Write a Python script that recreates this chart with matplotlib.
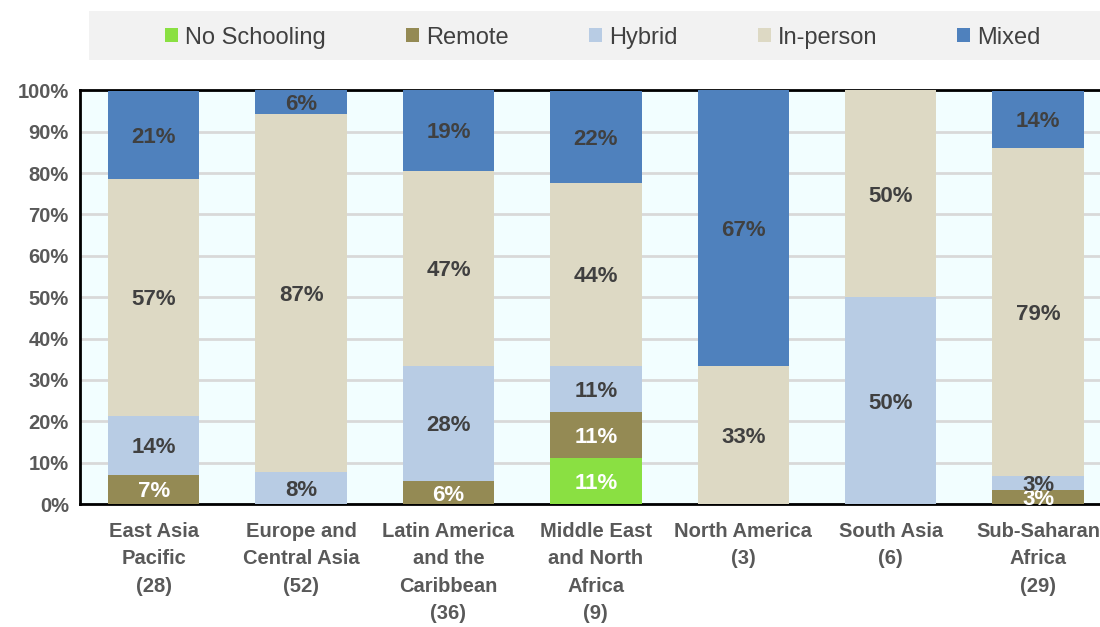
import matplotlib.pyplot as plt
import numpy as np
from matplotlib.patches import Rectangle

plt.rcParams['font.family'] = ['Liberation Sans', 'DejaVu Sans']

regions = ['East Asia\nPacific\n(28)', 'Europe and\nCentral Asia\n(52)',
           'Latin America\nand the\nCaribbean\n(36)', 'Middle East\nand North\nAfrica\n(9)',
           'North America\n(3)', 'South Asia\n(6)', 'Sub-Saharan\nAfrica\n(29)']
series = ['No Schooling', 'Remote', 'Hybrid', 'In-person', 'Mixed']
colors = ['#8AE042', '#948A54', '#B8CCE4', '#DDD9C4', '#4F81BD']
text_colors = ['white', 'white', '#404040', '#404040', '#404040']

no_schooling = [0, 0, 0, 11.1, 0, 0, 0]
remote = [7.1, 0, 5.6, 11.1, 0, 0, 3.4]
hybrid = [14.3, 7.7, 27.8, 11.1, 0, 50, 3.4]
in_person = [57.1, 86.5, 47.2, 44.4, 33.3, 50, 79.3]
mixed = [21.4, 5.8, 19.4, 22.2, 66.7, 0, 13.8]
data = [no_schooling, remote, hybrid, in_person, mixed]

fig = plt.figure(figsize=(11, 6.27), dpi=100)
ax = fig.add_axes([0.0727, 0.196, 0.938, 0.66])
ax.set_facecolor('#F2FEFF')

x = np.arange(len(regions))
bottom = np.zeros(len(regions))
for vals, name, c, tc in zip(data, series, colors, text_colors):
    vals = np.array(vals)
    ax.bar(x, vals, 0.62, bottom=bottom, color=c, label=name, zorder=3)
    for xi, b, v in zip(x, bottom, vals):
        if v > 0:
            ax.text(xi, b + v / 2, f'{int(v + 0.5)}%', ha='center', va='center_baseline',
                    color=tc, fontsize=16, fontweight='bold', zorder=4)
    bottom += vals

ax.set_xlim(-0.5, 6.5)
ax.set_ylim(0, 100)
ax.set_yticks(range(0, 101, 10))
ax.set_yticklabels([f'{t}%' for t in range(0, 101, 10)])
ax.set_xticks(x)
ax.set_xticklabels(regions, linespacing=1.55)
ax.tick_params(length=0, labelsize=14.5, labelcolor='#595959', pad=8)
for lab in ax.get_xticklabels() + ax.get_yticklabels():
    lab.set_fontweight('bold')
ax.tick_params(axis='x', pad=13)
ax.grid(axis='y', color='#D9D9D9', linewidth=2, zorder=0)
for s in ax.spines.values():
    s.set_color('black')
    s.set_linewidth(2)

fig.patches.append(Rectangle((0.081, 0.905), 0.92, 0.078, transform=fig.transFigure,
                             facecolor='#F2F2F2', edgecolor='none', zorder=0))
fig.legend(loc='center', bbox_to_anchor=(0.548, 0.94), ncol=5, frameon=False,
           fontsize=17, handlelength=0.55, handleheight=0.55, handletextpad=0.3,
           columnspacing=3.4, labelcolor='#404040')

fig.savefig('out.png', dpi=100)
